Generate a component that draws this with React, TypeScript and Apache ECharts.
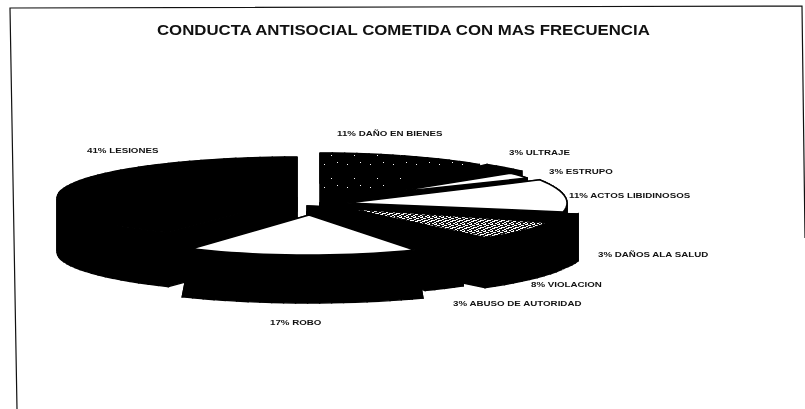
import React, { useEffect, useRef } from "react";
import * as echarts from "echarts";

const titleText = "CONDUCTA ANTISOCIAL COMETIDA CON MAS FRECUENCIA";
const categories = ["DAÑO EN BIENES", "ULTRAJE", "ESTRUPO", "ACTOS LIBIDINOSOS", "DAÑOS ALA SALUD", "VIOLACION", "ABUSO DE AUTORIDAD", "ROBO", "LESIONES"];
const percents = [11, 3, 3, 11, 3, 8, 3, 17, 41];

// layout of each exploded slice, same order as categories: centre, radii, side depth, flare of the base
const sliceLayout = [
  { cx: 320, cy: 203, rx: 250, ry: 50, d: 30, flare: 0, face: "dark" },
  { cx: 320, cy: 203, rx: 262, ry: 50, d: 20, flare: 0, face: "black" },
  { cx: 387, cy: 193, rx: 160, ry: 31, d: 4, flare: 0, face: "white" },
  { cx: 347, cy: 203, rx: 220, ry: 48, d: 12, flare: 0, face: "white" },
  { cx: 307, cy: 206, rx: 276, ry: 42, d: 47, flare: 0, face: "black" },
  { cx: 318, cy: 207, rx: 262, ry: 45, d: 46, flare: 0, face: "black" },
  { cx: 307, cy: 212, rx: 245, ry: 44, d: 40, flare: 0, face: "black" },
  { cx: 309, cy: 215, rx: 219, ry: 40, d: 48, flare: 0.08, face: "white" },
  { cx: 297, cy: 198, rx: 240, ry: 41, d: 54, flare: 0, face: "black" },
];
const labelLayout = [
  [337, 133], [509, 152], [549, 171], [569, 195], [598, 254], [531, 284], [453, 303], [270, 322], [87, 150],
];
const drawOrder = [0, 1, 2, 3, 8, 4, 5, 6, 7];

function speckle(light: string, dark: string, n: number, cells: number[]) {
  const c = document.createElement("canvas");
  c.width = n;
  c.height = n;
  const g = c.getContext("2d")!;
  g.fillStyle = dark;
  g.fillRect(0, 0, n, n);
  g.fillStyle = light;
  for (let i = 0; i + 1 < cells.length; i += 2) g.fillRect(cells[i], cells[i + 1], 1, 1);
  return { image: c, repeat: "repeat" };
}

function wedge(cx: number, cy: number, rx: number, ry: number, a0: number, a1: number) {
  const pts: number[][] = [[cx, cy]];
  const steps = Math.max(4, Math.ceil(Math.abs(a1 - a0) / 3));
  for (let i = 0; i <= steps; i++) {
    const a = ((a0 + ((a1 - a0) * i) / steps) * Math.PI) / 180;
    pts.push([cx + rx * Math.cos(a), cy - ry * Math.sin(a)]);
  }
  return pts;
}

// side wall of a wedge: one quad per edge of its outline, so the whole solid is filled
function walls(top: number[][], d: number, cx: number, flare: number) {
  const down = (p: number[]) => [p[0] + (p[0] - cx) * flare, p[1] + d];
  const out: any[] = [];
  top.forEach((p, k) => {
    const q = top[(k + 1) % top.length];
    out.push({
      type: "polygon",
      shape: { points: [p, q, down(q), down(p)] },
      style: { fill: "#000", stroke: "#000", lineWidth: 1.4 },
    });
  });
  return out;
}

export default function App() {
  const ref = useRef<HTMLDivElement>(null);
  useEffect(() => {
    document.body.style.margin = "0";
    const chart = echarts.init(ref.current!, undefined, { renderer: "svg" });
    const total = percents.reduce((a, b) => a + b, 0);
    const starts: number[] = [];
    let acc = 0;
    percents.forEach((v) => {
      starts.push(acc);
      acc += v;
    });
    const darkFill = speckle("#ffffff", "#000000", 23, [2, 3, 15, 1, 9, 17]);
    const violFill = speckle("#ffffff", "#111111", 7, [0, 0, 1, 0, 2, 0, 3, 1, 4, 1, 5, 1, 1, 2, 2, 2, 0, 3, 4, 3, 5, 3, 6, 3, 2, 4, 3, 4, 4, 4, 0, 5, 1, 5, 5, 6, 6, 6, 2, 6]);
    const renderItem = (_: any, api: any) => {
      const i = api.value(0);
      const v = api.value(1);
      const L = sliceLayout[i];
      const a0 = 90 - (starts[i] / total) * 360;
      const a1 = 90 - ((starts[i] + v) / total) * 360;
      const top = wedge(L.cx, L.cy, L.rx, L.ry, a0, a1);
      const children: any[] = [
        ...walls(top, L.d, L.cx, L.flare),
        {
          type: "polygon",
          shape: { points: top },
          style: {
            fill: L.face === "white" ? "#fff" : L.face === "dark" ? darkFill : "#000",
            stroke: "#000",
            lineWidth: L.face === "white" ? 1.5 : 0.5,
          },
        },
      ];
      if (categories[i] === "VIOLACION") {
        children.push({
          type: "polygon",
          shape: { points: wedge(358, 210, 201, 35, a0, a1) },
          style: { fill: violFill },
        });
      }
      return { type: "group", children };
    };
    chart.setOption({
      animation: false,
      graphic: [
        {
          type: "polyline",
          shape: { points: [[17, 409], [10, 8], [802, 6], [805, 238]] },
          style: { fill: "none", stroke: "#111", lineWidth: 1.2 },
        },
        {
          type: "text",
          x: 157,
          y: 30,
          scaleX: 1.2,
          style: {
            text: titleText,
            fontFamily: "Liberation Sans",
            fontSize: 14,
            fontWeight: "bold",
            fill: "#111",
            textVerticalAlign: "middle",
          },
        },
        ...categories.map((c, i) => ({
          type: "text",
          x: labelLayout[i][0],
          y: labelLayout[i][1],
          scaleX: 1.22,
          style: {
            text: `${percents[i]}% ${c}`,
            fontFamily: "Liberation Sans",
            fontSize: 8,
            fontWeight: "bold",
            fill: "#111",
            textVerticalAlign: "middle",
          },
        })),
      ],
      series: [
        {
          type: "custom",
          coordinateSystem: "none",
          silent: true,
          renderItem,
          data: drawOrder.map((i) => [i, percents[i]]),
        },
      ],
    });
    return () => chart.dispose();
  }, []);
  return <div ref={ref} style={{ width: 805, height: 409, background: "#fff", filter: "blur(0.4px)" }} />;
}
